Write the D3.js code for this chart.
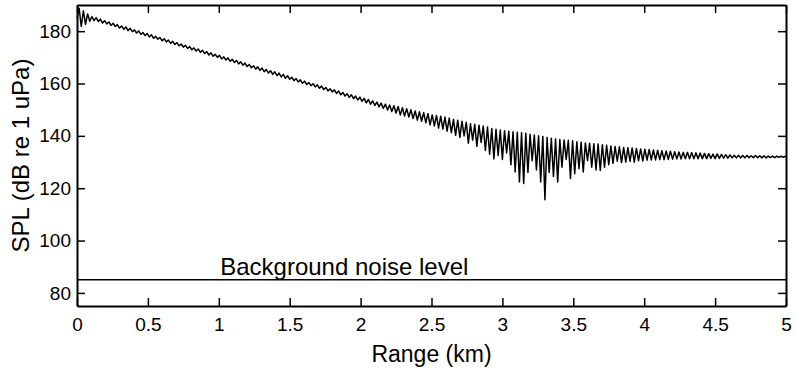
<!DOCTYPE html>
<html>
<head>
<meta charset="utf-8">
<script src="https://cdn.jsdelivr.net/npm/d3@7"></script>
<style>
  body { margin: 0; background: #fff; }
  svg { display: block; font-family: 'Liberation Sans', Arial, sans-serif; }
  .axis path, .axis line { stroke: #000; }
  .axis text { fill: #000; font-size: 19px; }
</style>
</head>
<body>
<svg class="spl-chart"></svg>
<script>
// range (km) and SPL (dB re 1 uPa)
let rangeKm = [
  0, 0.015, 0.03, 0.045, 0.06, 0.075, 0.09, 0.105, 0.12, 0.135,
  0.15, 0.165, 0.18, 0.195, 0.21, 0.225, 0.24, 0.255, 0.27, 0.285,
  0.3, 0.315, 0.33, 0.345, 0.36, 0.375, 0.39, 0.405, 0.42, 0.435,
  0.45, 0.465, 0.48, 0.495, 0.51, 0.525, 0.54, 0.555, 0.57, 0.585,
  0.6, 0.615, 0.63, 0.645, 0.66, 0.675, 0.69, 0.705, 0.72, 0.735,
  0.75, 0.765, 0.78, 0.795, 0.81, 0.825, 0.84, 0.855, 0.87, 0.885,
  0.9, 0.915, 0.93, 0.945, 0.96, 0.975, 0.99, 1.005, 1.02, 1.035,
  1.05, 1.065, 1.08, 1.095, 1.11, 1.125, 1.14, 1.155, 1.17, 1.185,
  1.2, 1.215, 1.23, 1.245, 1.26, 1.275, 1.29, 1.305, 1.32, 1.335,
  1.35, 1.365, 1.38, 1.395, 1.41, 1.425, 1.44, 1.455, 1.47, 1.485,
  1.5, 1.515, 1.53, 1.545, 1.56, 1.575, 1.59, 1.605, 1.62, 1.635,
  1.65, 1.665, 1.68, 1.695, 1.71, 1.725, 1.74, 1.755, 1.77, 1.785,
  1.8, 1.815, 1.83, 1.845, 1.86, 1.875, 1.89, 1.905, 1.92, 1.935,
  1.95, 1.965, 1.98, 1.995, 2.01, 2.025, 2.04, 2.055, 2.07, 2.085,
  2.1, 2.115, 2.13, 2.145, 2.16, 2.175, 2.19, 2.205, 2.22, 2.235,
  2.25, 2.265, 2.28, 2.295, 2.31, 2.325, 2.34, 2.355, 2.37, 2.385,
  2.4, 2.415, 2.43, 2.445, 2.46, 2.475, 2.49, 2.505, 2.52, 2.535,
  2.55, 2.565, 2.58, 2.595, 2.61, 2.625, 2.64, 2.655, 2.67, 2.685,
  2.7, 2.715, 2.73, 2.745, 2.76, 2.775, 2.79, 2.805, 2.82, 2.835,
  2.85, 2.865, 2.88, 2.895, 2.91, 2.925, 2.94, 2.955, 2.97, 2.985,
  3, 3.015, 3.03, 3.045, 3.06, 3.075, 3.09, 3.105, 3.12, 3.135,
  3.15, 3.165, 3.18, 3.195, 3.21, 3.225, 3.24, 3.255, 3.27, 3.285,
  3.3, 3.315, 3.33, 3.345, 3.36, 3.375, 3.39, 3.405, 3.42, 3.435,
  3.45, 3.465, 3.48, 3.495, 3.51, 3.525, 3.54, 3.555, 3.57, 3.585,
  3.6, 3.615, 3.63, 3.645, 3.66, 3.675, 3.69, 3.705, 3.72, 3.735,
  3.75, 3.765, 3.78, 3.795, 3.81, 3.825, 3.84, 3.855, 3.87, 3.885,
  3.9, 3.915, 3.93, 3.945, 3.96, 3.975, 3.99, 4.005, 4.02, 4.035,
  4.05, 4.065, 4.08, 4.095, 4.11, 4.125, 4.14, 4.155, 4.17, 4.185,
  4.2, 4.215, 4.23, 4.245, 4.26, 4.275, 4.29, 4.305, 4.32, 4.335,
  4.35, 4.365, 4.38, 4.395, 4.41, 4.425, 4.44, 4.455, 4.47, 4.485,
  4.5, 4.515, 4.53, 4.545, 4.56, 4.575, 4.59, 4.605, 4.62, 4.635,
  4.65, 4.665, 4.68, 4.695, 4.71, 4.725, 4.74, 4.755, 4.77, 4.785,
  4.8, 4.815, 4.83, 4.845, 4.86, 4.875, 4.89, 4.905, 4.92, 4.935,
  4.95, 4.965, 4.98, 4.995, 5
];

let splDb = [
  185.0, 188.8, 181.8, 187.8, 182.6, 186.6, 183.8, 185.6, 184.0, 185.2,
  183.7, 184.6, 183.1, 184.0, 182.8, 183.5, 182.2, 183.0, 181.8, 182.5,
  181.2, 182.0, 180.7, 181.6, 180.2, 181.1, 179.8, 180.5, 179.3, 180.1,
  178.8, 179.5, 178.3, 179.1, 177.8, 178.6, 177.3, 178.0, 176.9, 177.6,
  176.3, 177.1, 175.9, 176.6, 175.3, 176.1, 174.9, 175.6, 174.4, 175.1,
  173.9, 174.6, 173.4, 174.1, 172.9, 173.6, 172.4, 173.2, 171.9, 172.7,
  171.4, 172.2, 170.9, 171.7, 170.4, 171.2, 170.0, 170.8, 169.4, 170.2,
  169.0, 169.8, 168.5, 169.3, 168.0, 168.8, 167.5, 168.3, 167.0, 167.8,
  166.5, 167.3, 166.0, 166.8, 165.5, 166.4, 165.0, 165.9, 164.5, 165.4,
  164.0, 164.9, 163.5, 164.5, 163.0, 164.0, 162.5, 163.5, 162.0, 163.0,
  161.6, 162.4, 161.1, 161.9, 160.6, 161.4, 160.1, 160.9, 159.6, 160.4,
  159.2, 159.9, 158.7, 159.5, 158.2, 159.0, 157.7, 158.5, 157.2, 158.0,
  156.8, 157.6, 156.2, 157.1, 155.7, 156.6, 155.2, 156.1, 154.7, 155.7,
  154.2, 155.2, 153.7, 154.8, 153.2, 154.3, 152.6, 153.9, 152.1, 153.4,
  151.6, 152.9, 151.1, 152.5, 150.5, 152.1, 149.9, 151.8, 149.3, 151.5,
  148.7, 151.2, 148.0, 150.8, 147.6, 150.4, 147.2, 150.0, 146.6, 149.5,
  146.0, 149.2, 145.6, 148.9, 145.0, 148.5, 144.2, 148.0, 143.8, 147.8,
  143.0, 147.5, 142.6, 147.2, 141.8, 146.8, 141.2, 146.3, 140.2, 146.0,
  139.4, 145.6, 140.0, 145.2, 137.2, 144.6, 138.4, 144.4, 136.0, 144.1,
  137.5, 143.8, 134.4, 143.4, 133.0, 142.8, 131.2, 142.5, 132.5, 142.2,
  131.0, 142.0, 133.5, 141.8, 129.0, 141.6, 126.2, 141.4, 122.4, 141.2,
  121.8, 141.0, 126.0, 140.6, 130.5, 140.3, 127.0, 140.0, 122.4, 139.8,
  115.6, 139.4, 126.0, 139.1, 124.5, 138.8, 122.4, 138.6, 128.0, 138.4,
  131.0, 138.3, 123.7, 138.1, 125.5, 137.8, 127.5, 137.6, 126.2, 137.3,
  130.5, 137.2, 128.0, 137.0, 127.0, 136.9, 126.8, 136.6, 128.0, 136.4,
  129.0, 136.1, 129.5, 135.9, 130.3, 135.8, 129.8, 135.6, 130.0, 135.5,
  130.3, 135.4, 130.0, 135.2, 130.5, 135.0, 130.4, 134.9, 130.7, 134.8,
  130.8, 134.6, 130.8, 134.5, 130.9, 134.3, 130.9, 134.2, 131.0, 134.1,
  131.1, 133.9, 131.2, 133.8, 131.2, 133.7, 131.3, 133.7, 131.3, 133.6,
  131.3, 133.5, 131.3, 133.4, 131.3, 133.3, 131.3, 133.2, 131.4, 133.0,
  131.3, 133.1, 131.4, 132.9, 131.5, 132.8, 131.5, 132.7, 131.6, 132.6,
  131.6, 132.6, 131.6, 132.5, 131.6, 132.5, 131.7, 132.4, 131.7, 132.5,
  131.7, 132.4, 131.6, 132.4, 131.6, 132.3, 131.7, 132.3, 131.7, 132.3,
  131.8, 132.2, 131.8, 132.2, 132.0
];

let noiseLevel = 85;
let noiseLabel = 'Background noise level';
let xTicks = [0, 0.5, 1, 1.5, 2, 2.5, 3, 3.5, 4, 4.5, 5];
let yTicks = [80, 100, 120, 140, 160, 180];

let margin = {top: 5, right: 10, bottom: 63, left: 77},
  width = 796 - margin.left - margin.right,
  height = 369 - margin.top - margin.bottom;

let svg = d3.select('.spl-chart')
  .attr('width', width + margin.left + margin.right)
  .attr('height', height + margin.top + margin.bottom)
  .append('g')
  .attr('transform', 'translate(' + margin.left + ',' + margin.top + ')');

let xScale = d3.scaleLinear().domain([0, 5]).range([0, width]);
let yScale = d3.scaleLinear().domain([75, 190]).range([height, 0]);

let fmt = d3.format('~g');

// data line
let points = rangeKm.map((r, i) => ({range: r, spl: splDb[i]}));
let line = d3.line()
  .x((d) => xScale(d.range))
  .y((d) => yScale(d.spl));

svg.append('path')
  .datum(points)
  .attr('d', line)
  .attr('fill', 'none')
  .attr('stroke', '#000')
  .attr('stroke-width', 1.5)
  .attr('stroke-linejoin', 'round');

// background noise level
svg.append('line')
  .attr('x1', xScale(0))
  .attr('x2', xScale(5))
  .attr('y1', yScale(noiseLevel))
  .attr('y2', yScale(noiseLevel))
  .attr('stroke', '#000')
  .attr('stroke-width', 1.5);

svg.append('text')
  .attr('x', xScale(1.01))
  .attr('y', yScale(noiseLevel) - 5)
  .attr('font-size', 24)
  .text(noiseLabel);

// axes, ticks pointing inward
svg.append('g')
  .attr('class', 'x axis')
  .attr('transform', 'translate(0,' + height + ')')
  .call(d3.axisBottom(xScale).tickValues(xTicks).tickFormat(fmt).tickSizeInner(-8).tickSizeOuter(0).tickPadding(12))
  .call((g) => g.select('.domain').attr('stroke-width', 2));

svg.append('g')
  .attr('class', 'x axis')
  .call(d3.axisTop(xScale).tickValues(xTicks).tickFormat('').tickSizeInner(-8).tickSizeOuter(0))
  .call((g) => g.select('.domain').attr('stroke-width', 2));

svg.append('g')
  .attr('class', 'y axis')
  .call(d3.axisLeft(yScale).tickValues(yTicks).tickSizeInner(-8).tickSizeOuter(0).tickPadding(6))
  .call((g) => g.select('.domain').attr('stroke-width', 2));

svg.append('g')
  .attr('class', 'y axis')
  .attr('transform', 'translate(' + width + ',0)')
  .call(d3.axisRight(yScale).tickValues(yTicks).tickFormat('').tickSizeInner(-8).tickSizeOuter(0))
  .call((g) => g.select('.domain').attr('stroke-width', 2));

svg.selectAll('.tick line').attr('stroke-width', 1.5);

// axis titles
svg.append('text')
  .attr('x', width / 2)
  .attr('y', height + 56)
  .attr('text-anchor', 'middle')
  .attr('font-size', 23)
  .text('Range (km)');

svg.append('text')
  .attr('transform', 'translate(' + (-48) + ',' + (height / 2) + ') rotate(-90)')
  .attr('text-anchor', 'middle')
  .attr('font-size', 24)
  .text('SPL (dB re 1 uPa)');
</script>
</body>
</html>
